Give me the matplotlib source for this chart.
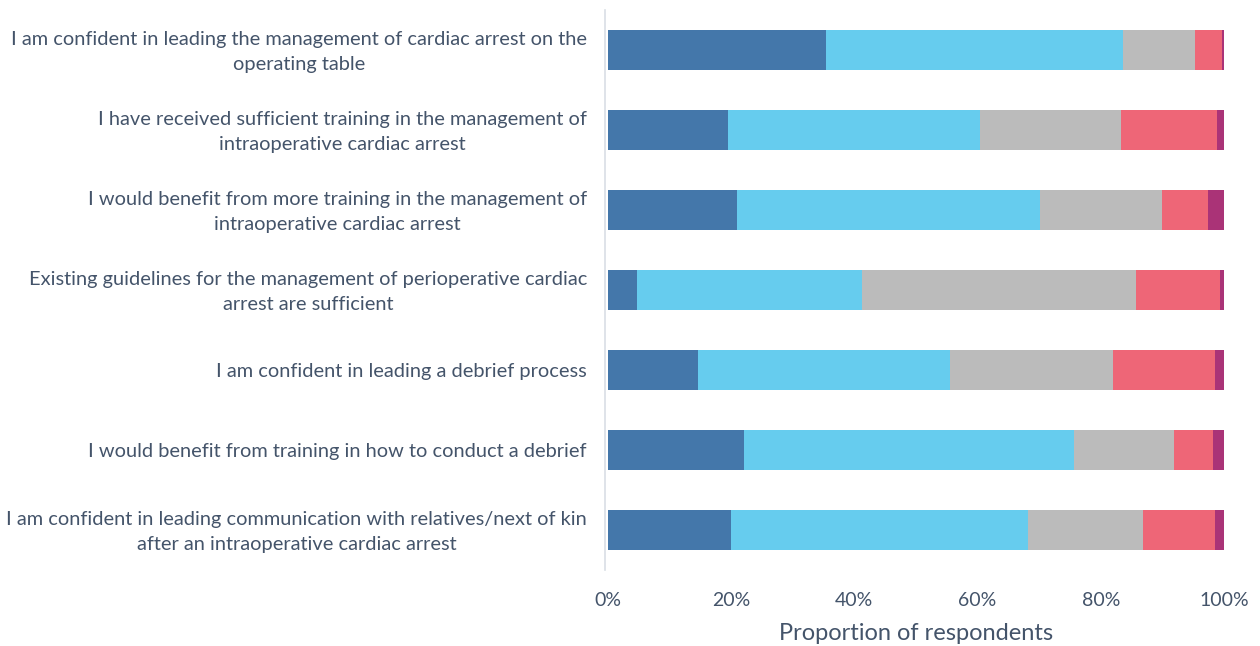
import matplotlib
matplotlib.use("Agg")
import matplotlib.pyplot as plt
import matplotlib.transforms as mtransforms
from matplotlib.ticker import PercentFormatter

statements = [
    "I am confident in leading the management of cardiac arrest on the\noperating table",
    "I have received sufficient training in the management of\nintraoperative cardiac arrest",
    "I would benefit from more training in the management of\nintraoperative cardiac arrest",
    "Existing guidelines for the management of perioperative cardiac\narrest are sufficient",
    "I am confident in leading a debrief process",
    "I would benefit from training in how to conduct a debrief",
    "I am confident in leading communication with relatives/next of kin\nafter an intraoperative cardiac arrest",
]
strongly_agree    = [35.4, 19.5, 20.9,  4.7, 14.6, 22.1, 19.9]
agree             = [48.2, 40.9, 49.2, 36.5, 41.0, 53.5, 48.3]
neutral           = [11.7, 22.9, 19.9, 44.5, 26.3, 16.3, 18.6]
disagree          = [ 4.4, 15.5,  7.4, 13.6, 16.7,  6.3, 11.7]
strongly_disagree = [ 0.3,  1.2,  2.6,  0.7,  1.4,  1.8,  1.5]
series = [strongly_agree, agree, neutral, disagree, strongly_disagree]
colors = ["#4477AA", "#66CCEE", "#BBBBBB", "#EE6677", "#AA3377"]
xticks = [0, 20, 40, 60, 80, 100]

txt = "#44546A"
plt.rcParams['font.family'] = ['Lato', 'DejaVu Sans']

fig = plt.figure(figsize=(12.6, 6.46), dpi=100)
ax = fig.add_axes([608/1260, 1 - 570/646, 616/1260, 560/646])

y = list(range(len(statements)))
left = [0.0] * len(statements)
for vals, c in zip(series, colors):
    ax.barh(y, vals, left=left, height=0.51, color=c, edgecolor='none')
    left = [l + v for l, v in zip(left, vals)]

ax.set_xlim(0, 100)
ax.set_ylim(len(statements) - 0.5, -0.5)
ax.set_yticks(y)
ax.set_yticklabels([])
ax.tick_params(axis='y', length=0)
lab_tr = mtransforms.offset_copy(ax.get_yaxis_transform(), fig=fig, x=0, y=-2, units='dots')
for yi, s in zip(y, statements):
    ax.text(-21/616, yi, s, transform=lab_tr,
            ha='right', va='center', multialignment='center',
            fontsize=14.4, color=txt, linespacing=1.62)

ax.set_xticks(xticks)
ax.xaxis.set_major_formatter(PercentFormatter(decimals=0))
ax.tick_params(axis='x', labelsize=14, labelcolor=txt, length=0, pad=16)
for s in ['top', 'right', 'bottom']:
    ax.spines[s].set_visible(False)
ax.spines['left'].set_color('#D9DEE5')
ax.spines['left'].set_linewidth(1.2)
ax.spines['left'].set_position(('outward', 2))
ax.set_xlabel("Proportion of respondents", fontsize=17, color=txt, labelpad=10)

fig.savefig("out.png", dpi=100)
